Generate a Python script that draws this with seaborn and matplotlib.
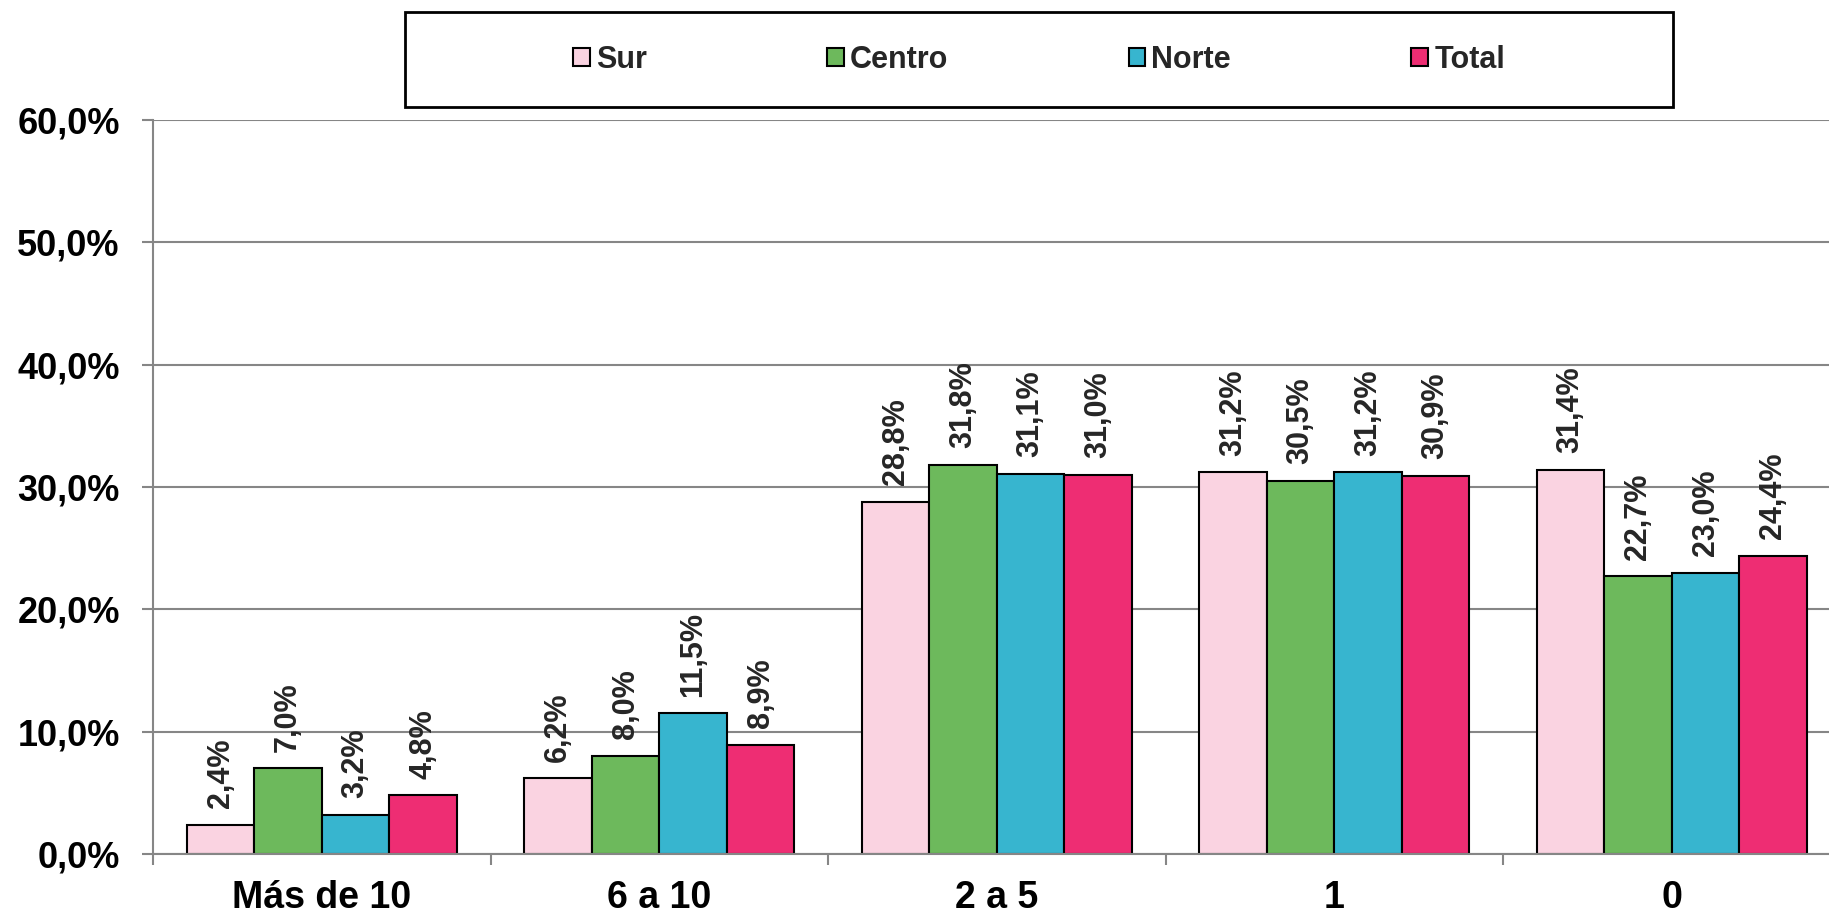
"""Recreate the grouped bar chart of percentages by region (Sur / Centro / Norte / Total)."""

from matplotlib import pyplot as plt
from matplotlib.patches import Patch, Rectangle
from matplotlib.ticker import FixedLocator, FuncFormatter
import pandas as pd
import seaborn as sns

categories = ["Más de 10", "6 a 10", "2 a 5", "1", "0"]
regions = ["Sur", "Centro", "Norte", "Total"]
sur = [2.4, 6.2, 28.8, 31.2, 31.4]
centro = [7.0, 8.0, 31.8, 30.5, 22.7]
norte = [3.2, 11.5, 31.1, 31.2, 23.0]
total = [4.8, 8.9, 31.0, 30.9, 24.4]
colors = ["#FAD3E1", "#6DB95C", "#37B5CF", "#EE2D73"]
y_ticks = [0, 10, 20, 30, 40, 50, 60]


def pct(value: float) -> str:
    return f"{value:.1f}%".replace(".", ",")


frame = pd.DataFrame(
    {
        "categoria": categories * 4,
        "region": [r for r in regions for _ in categories],
        "valor": sur + centro + norte + total,
    }
)

sns.set_theme(style="whitegrid")
plt.rcParams["font.family"] = ["Liberation Sans", "DejaVu Sans"]
plt.rcParams["font.weight"] = "bold"

fig = plt.figure(figsize=(18.29, 9.13), dpi=100)
ax = fig.add_axes([0.0837, 0.0646, 0.9226, 0.804])

sns.barplot(
    data=frame,
    x="categoria",
    y="valor",
    hue="region",
    order=categories,
    hue_order=regions,
    palette=colors,
    saturation=1,
    width=0.8,
    edgecolor="black",
    linewidth=1.5,
    legend=False,
    ax=ax,
)

for container, region in zip(ax.containers, regions):
    ax.bar_label(
        container,
        labels=[pct(v) for v in frame.loc[frame["region"] == region, "valor"]],
        padding=12,
        rotation=90,
        fontsize=22,
        fontweight="bold",
    )

ax.set_xlim(-0.5, 4.5)
ax.set_ylim(0, 60)
ax.yaxis.set_major_locator(FixedLocator(y_ticks))
ax.yaxis.set_major_formatter(FuncFormatter(lambda v, _: pct(v)))
ax.set_xlabel("")
ax.set_ylabel("")

ax.grid(axis="y", color="#868686", linewidth=1.5)
ax.grid(axis="x", visible=False)
ax.set_axisbelow(True)
for side in ["top", "right"]:
    ax.spines[side].set_visible(False)
for side in ["left", "bottom"]:
    ax.spines[side].set_color("#868686")
    ax.spines[side].set_linewidth(1.5)

ax.tick_params(axis="y", which="major", length=8, width=1.5, color="#868686",
               pad=16, labelsize=26, labelcolor="black", left=True)
ax.tick_params(axis="x", which="major", length=0, pad=19, labelsize=27,
               labelcolor="black")
ax.xaxis.set_minor_locator(FixedLocator([-0.5, 0.5, 1.5, 2.5, 3.5]))
ax.tick_params(axis="x", which="minor", length=8, width=1.5, color="#868686",
               bottom=True)
for label in ax.get_xticklabels() + ax.get_yticklabels():
    label.set_fontweight("bold")

# legend box drawn separately so the entries can sit centred with wide spacing
box = Rectangle((0.2214, 0.8828), 0.6933, 0.104, transform=fig.transFigure,
                facecolor="white", edgecolor="black", linewidth=2, zorder=5)
fig.patches.append(box)
handles = [Patch(facecolor=c, edgecolor="black", linewidth=1.5) for c in colors]
fig.legend(
    handles,
    regions,
    loc="center",
    bbox_to_anchor=(0.2214 + 0.6933 / 2, 0.8828 + 0.104 / 2),
    ncol=4,
    frameon=False,
    prop={"weight": "bold", "size": 22},
    handlelength=0.55,
    handleheight=0.55,
    handletextpad=0.2,
    columnspacing=5.9,
)

fig.savefig("out.png", dpi=100)
